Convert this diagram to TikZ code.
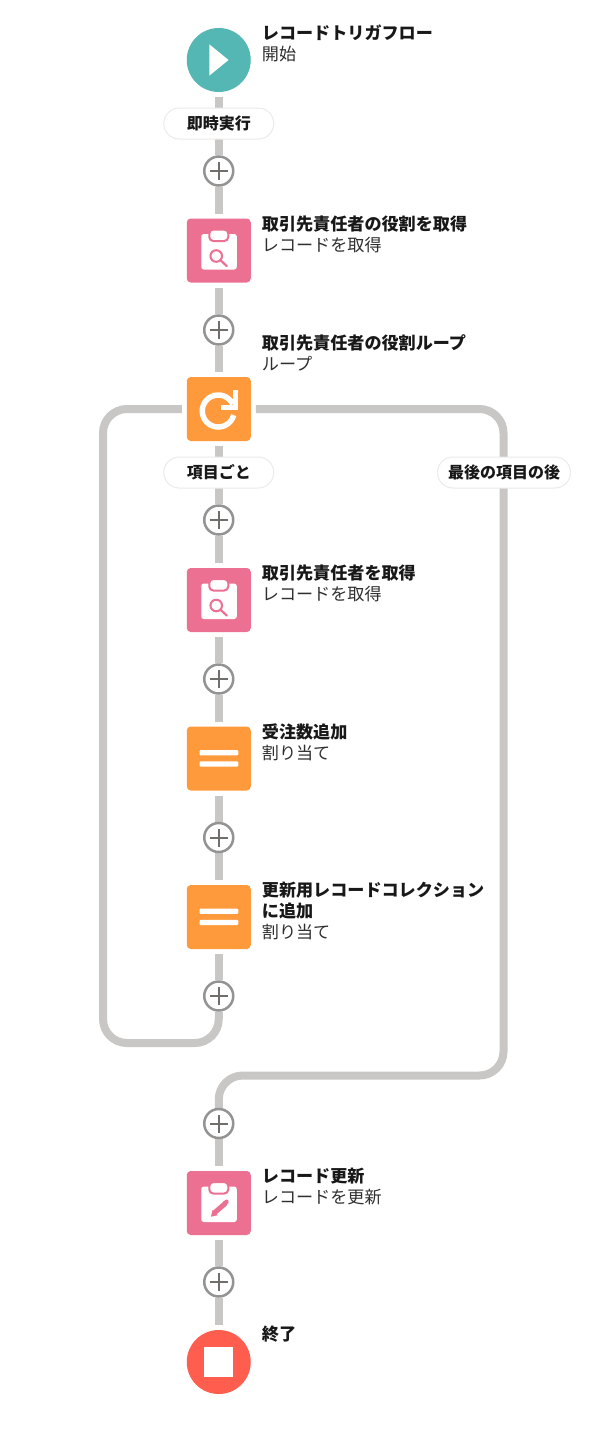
\documentclass[tikz,border=0pt]{standalone}
\usepackage{fontspec}
\setmainfont{Noto Sans CJK JP}
\usetikzlibrary{backgrounds}
\definecolor{teal1}{HTML}{54B7B3}
\definecolor{pink1}{HTML}{EB7092}
\definecolor{orange1}{HTML}{FF9A3C}
\definecolor{red1}{HTML}{FF5D4D}
\definecolor{wire1}{HTML}{C9C7C5}
\definecolor{ring1}{HTML}{939393}
\definecolor{plus1}{HTML}{706E6B}
\definecolor{pillb}{HTML}{ECEBEA}
\definecolor{ink}{HTML}{181818}
\tikzset{
 x=1pt,y=1pt,
 wire/.style={draw=wire1,line width=8pt},
 sq/.style={rectangle,rounded corners=4pt,minimum size=64pt,inner sep=0pt,outer sep=5pt,fill=#1},
 rd/.style={circle,minimum size=64pt,inner sep=0pt,outer sep=5pt,fill=#1},
 addbtn/.style={circle,minimum size=29pt,inner sep=0pt,draw=ring1,line width=2.5pt,fill=white},
 pill/.style={rectangle,rounded corners=15.5pt,minimum height=31pt,inner sep=0pt,draw=pillb,line width=1pt,fill=white,font=\fontsize{16}{16}\selectfont\bfseries,text=ink},
 ttl/.style={anchor=base west,inner sep=0pt,font=\fontsize{17.1}{17.1}\selectfont\bfseries,text=ink},
 subt/.style={anchor=base west,inner sep=0pt,font=\fontsize{17.1}{17.1}\selectfont,text=ink!90},
}
\newcommand{\plusmark}[1]{\draw[plus1,line width=2pt] ([xshift=-9pt]#1.center) -- ([xshift=9pt]#1.center) ([yshift=-9pt]#1.center) -- ([yshift=9pt]#1.center);}
\newcommand{\clipbody}[1]{%
 \fill[white,rounded corners=2.5pt,shift={(#1.center)}] (-17.5,16.5) rectangle (18,-19);
 \fill[white,draw=pink1,line width=2pt,rounded corners=4pt,shift={(#1.center)}] (-9.5,21) rectangle (9.5,9.5);}
\newcommand{\lensicon}[1]{%
 \clipbody{#1}
 \draw[pink1,line width=2pt,shift={(#1.center)}] (-2.5,-5.5) circle (5.8);
 \draw[pink1,line width=2.2pt,line cap=round,shift={(#1.center)}] (1.8,-9.8) -- (8,-15.5);}
\newcommand{\eqicon}[1]{%
 \fill[white,rounded corners=1pt,shift={(#1.center)}] (-19.2,8.5) rectangle (19.5,3.2) (-19.2,-2.8) rectangle (19.5,-8.2);}
\begin{document}
\begin{tikzpicture}
\useasboundingbox (0,0) rectangle (612,-1432);
% icons
\node[rd=teal1] (start) at (218.75,-60) {};
\node[sq=pink1] (get1) at (218.75,-250.5) {};
\node[sq=orange1] (loop) at (218.75,-409) {};
\node[sq=pink1] (get2) at (218.75,-600) {};
\node[sq=orange1] (asg1) at (218.75,-758.5) {};
\node[sq=orange1] (asg2) at (218.75,-917) {};
\node[sq=pink1] (upd) at (218.75,-1203) {};
\node[rd=red1] (stop) at (218.75,-1362) {};
% add buttons
\node[addbtn] (a1) at (218.75,-171) {};
\node[addbtn] (a2) at (218.75,-330) {};
\node[addbtn] (a3) at (218.75,-520) {};
\node[addbtn] (a4) at (218.75,-679) {};
\node[addbtn] (a5) at (218.75,-837.5) {};
\node[addbtn] (a6) at (218.75,-996) {};
\node[addbtn] (a7) at (218.75,-1123.5) {};
\node[addbtn] (a8) at (218.75,-1282) {};
\foreach \n in {a1,a2,a3,a4,a5,a6,a7,a8}{\plusmark{\n}}
% pills
\node[pill,minimum width=110pt] (p1) at (218.75,-123.5) {即時実行};
\node[pill,minimum width=110pt] (p2) at (218.75,-472.5) {項目ごと};
\node[pill,minimum width=133pt] (p3) at (504,-472.5) {最後の項目の後};
% bend points
\coordinate (lb) at (103,-1043);
\coordinate (lt) at (103,-409);
\coordinate (rt) at (503.5,-409);
\coordinate (rb) at (503.5,-1075.5);
\coordinate (mb) at (218.75,-1075.5);
\coordinate (ib) at (218.75,-1043);
% connectors
\begin{scope}[on background layer]
\fill[white] (0,0) rectangle (612,-1432);
\draw[wire] (start) -- (a1);
\draw[wire] (a1) -- (get1);
\draw[wire] (get1) -- (a2);
\draw[wire] (a2) -- (loop);
\draw[wire] (loop) -- (a3);
\draw[wire] (a3) -- (get2);
\draw[wire] (get2) -- (a4);
\draw[wire] (a4) -- (asg1);
\draw[wire] (asg1) -- (a5);
\draw[wire] (a5) -- (asg2);
\draw[wire] (asg2) -- (a6);
\draw[wire,rounded corners=24pt] (a6.south) -- (ib) -- (lb) -- (lt) -- (loop.west);
\draw[wire,rounded corners=24pt] (loop.east) -- (rt) -- (rb) -- (mb) -- (a7.north);
\draw[wire] (a7) -- (upd);
\draw[wire] (upd) -- (a8);
\draw[wire] (a8) -- (stop);
\end{scope}
% glyphs
\fill[white,shift={(start.center)}] (-9.5,15.7) -- (9.8,0) -- (-9.5,-15.7) -- cycle;
\lensicon{get1}
\lensicon{get2}
\fill[white,shift={(stop.center)}] (-14.7,14.7) rectangle (14.7,-14.7);
\eqicon{asg1}
\eqicon{asg2}
% loop icon
\draw[white,line width=5.5pt,shift={(loop.center)}] (14,4.76) arc (25:345:16);
\fill[white,shift={(loop.center)}] (14,19) rectangle (19,-1);
\fill[white,shift={(loop.center)}] (2.2,-1) rectangle (19,4);
% update icon
\clipbody{upd}
\begin{scope}[shift={(upd.center)}]
\draw[pink1,line width=5pt] (-4,-9.5) -- (7,0);
\fill[pink1] (-7.8,-13.7) -- (-6.2,-7) -- (-1,-12.2) -- cycle;
\fill[pink1,rounded corners=0.8pt] (6.5,-2.8) -- (10,0.2) -- (9.3,3.4) -- (7,3.4) -- (3.6,0.4) -- cycle;
\end{scope}
% labels
\node[ttl] (t1) at (261.7,-39) {レコードトリガフロー};
\node[subt] (s1) at (261.7,-60) {開始};
\node[ttl] (t2) at (261.7,-230) {取引先責任者の役割を取得};
\node[subt] (s2) at (261.7,-251) {レコードを取得};
\node[ttl] (t3) at (261.7,-349) {取引先責任者の役割ループ};
\node[subt] (s3) at (261.7,-370) {ループ};
\node[ttl] (t4) at (261.7,-579) {取引先責任者を取得};
\node[subt] (s4) at (261.7,-600) {レコードを取得};
\node[ttl] (t5) at (261.7,-738) {受注数追加};
\node[subt] (s5) at (261.7,-759) {割り当て};
\node[ttl] (t6) at (261.7,-896) {更新用レコードコレクション};
\node[ttl] (t6b) at (261.7,-917) {に追加};
\node[subt] (s6) at (261.7,-938) {割り当て};
\node[ttl] (t7) at (261.7,-1182) {レコード更新};
\node[subt] (s7) at (261.7,-1203) {レコードを更新};
\node[ttl] (t8) at (261.7,-1340) {終了};
\end{tikzpicture}
\end{document}
